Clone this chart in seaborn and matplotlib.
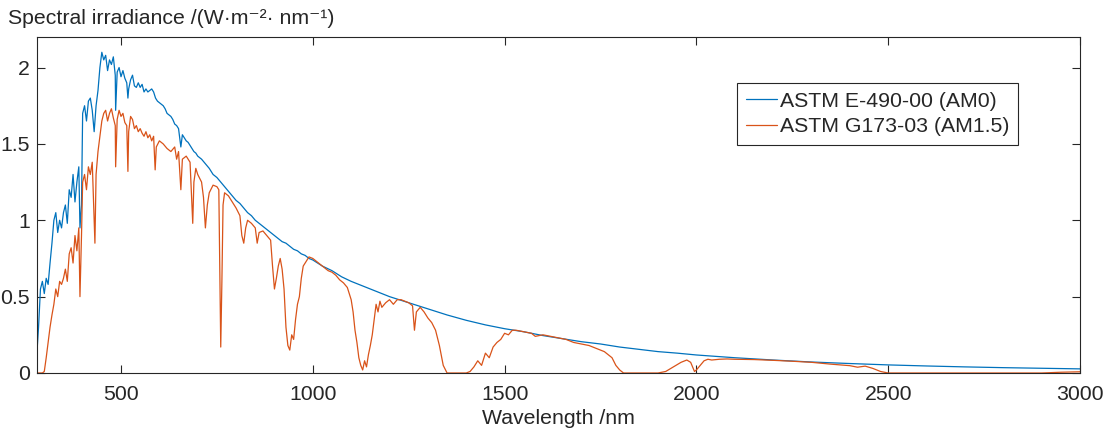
import matplotlib
matplotlib.use("Agg")
import matplotlib.pyplot as plt
import seaborn as sns
import numpy as np

# ---- AM0 (ASTM E-490-00) ----
am0_wl = [280, 285, 290, 295, 300, 305, 310, 315, 320, 325, 330, 335, 340, 345, 350,
          355, 360, 365, 370, 375, 380, 385, 390, 393, 397, 400, 405, 410, 415, 420,
          425, 430, 435, 440, 445, 450, 455, 460, 465, 470, 475, 480, 485, 486, 490,
          495, 500, 505, 510, 515, 518, 520, 525, 530, 535, 540, 545, 550, 555, 560,
          565, 570, 575, 580, 585, 590, 595, 600, 605, 610, 615, 620, 625, 630, 635,
          640, 645, 650, 656, 660, 665, 670, 675, 680, 685, 690, 695, 700, 710, 720,
          730, 740, 750, 760, 770, 780, 790, 800, 810, 820, 830, 840, 850, 860, 870,
          880, 890, 900, 910, 920, 930, 940, 950, 960, 970, 980, 990, 1000, 1025, 1050,
          1075, 1100, 1125, 1150, 1175, 1200, 1250, 1300, 1350, 1400, 1450, 1500, 1550,
          1600, 1650, 1700, 1750, 1800, 1850, 1900, 1950, 2000, 2100, 2200, 2300, 2400,
          2500, 2600, 2700, 2800, 2900, 3000]
am0_val = [0.10, 0.30, 0.55, 0.60, 0.52, 0.62, 0.58, 0.72, 0.85, 1.00, 1.05, 0.92, 1.00, 0.95, 1.05,
           1.10, 0.98, 1.20, 1.15, 1.30, 1.12, 1.25, 1.35, 0.95, 1.10, 1.70, 1.75, 1.65, 1.78, 1.80,
           1.72, 1.58, 1.75, 1.85, 2.00, 2.10, 2.05, 2.08, 1.98, 2.05, 2.02, 2.07, 1.95, 1.72, 1.97,
           2.00, 1.94, 1.98, 1.93, 1.90, 1.80, 1.86, 1.92, 1.95, 1.88, 1.87, 1.90, 1.87, 1.89, 1.84,
           1.86, 1.84, 1.85, 1.86, 1.84, 1.80, 1.78, 1.77, 1.76, 1.75, 1.73, 1.70, 1.69, 1.68, 1.66,
           1.63, 1.62, 1.60, 1.48, 1.56, 1.54, 1.52, 1.51, 1.49, 1.47, 1.45, 1.44, 1.42, 1.40, 1.37,
           1.34, 1.30, 1.28, 1.25, 1.22, 1.19, 1.16, 1.13, 1.11, 1.08, 1.05, 1.03, 1.00, 0.98, 0.96,
           0.94, 0.92, 0.90, 0.88, 0.86, 0.85, 0.83, 0.81, 0.80, 0.78, 0.77, 0.75, 0.74, 0.70, 0.67,
           0.63, 0.60, 0.575, 0.55, 0.525, 0.50, 0.46, 0.42, 0.38, 0.345, 0.315, 0.29, 0.27,
           0.245, 0.225, 0.205, 0.19, 0.17, 0.155, 0.14, 0.13, 0.118, 0.10, 0.085, 0.072, 0.062,
           0.053, 0.046, 0.040, 0.035, 0.031, 0.027]

# ---- AM1.5 (ASTM G173-03) ----
am15_wl = [280, 290, 295, 300, 305, 310, 315, 320, 325, 330, 335, 340, 345, 350, 355,
           360, 365, 370, 375, 380, 385, 390, 393, 397, 400, 405, 410, 415, 420, 425,
           430, 432, 435, 440, 445, 450, 455, 460, 465, 470, 475, 480, 485, 486, 490,
           495, 500, 505, 510, 515, 518, 520, 525, 530, 535, 540, 545, 550, 555, 560,
           565, 570, 575, 580, 585, 589, 592, 600, 610, 620, 630, 640, 645, 650, 656,
           660, 670, 680, 687, 690, 695, 700, 710, 715, 720, 725, 730, 740, 750, 755,
           760, 763, 766, 770, 780, 790, 800, 810, 815, 820, 825, 830, 840, 850, 855,
           860, 870, 880, 890, 895, 900, 905, 910, 915, 920, 925, 930, 935, 940, 945,
           950, 955, 960, 965, 970, 975, 980, 990, 1000, 1010, 1020, 1030, 1040, 1050, 1060,
           1070, 1080, 1090, 1100, 1105, 1110, 1115, 1120, 1125, 1130, 1135, 1140, 1145, 1150, 1155,
           1160, 1165, 1170, 1175, 1180, 1190, 1200, 1210, 1220, 1230, 1240, 1250, 1260, 1265, 1270,
           1280, 1290, 1300, 1310, 1320, 1330, 1340, 1350, 1400, 1410, 1420, 1430, 1440, 1450, 1460,
           1470, 1480, 1490, 1500, 1510, 1520, 1530, 1550, 1570, 1580, 1600, 1620, 1640, 1660, 1680,
           1700, 1720, 1740, 1760, 1780, 1790, 1800, 1810, 1900, 1920, 1940, 1960, 1975, 1985, 1995,
           2000, 2010, 2020, 2030, 2040, 2060, 2080, 2100, 2150, 2200, 2250, 2300, 2350, 2400, 2420,
           2440, 2460, 2480, 2500, 2900, 2950, 3000]
am15_val = [0.0, 0.0, 0.0, 0.01, 0.10, 0.20, 0.30, 0.38, 0.45, 0.55, 0.50, 0.60, 0.58, 0.62, 0.68,
            0.60, 0.78, 0.82, 0.72, 0.90, 0.80, 0.95, 0.50, 0.90, 1.25, 1.30, 1.20, 1.35, 1.30, 1.38,
            1.00, 0.85, 1.30, 1.45, 1.55, 1.65, 1.70, 1.72, 1.65, 1.70, 1.73, 1.67, 1.62, 1.35, 1.66,
            1.72, 1.68, 1.70, 1.64, 1.62, 1.32, 1.58, 1.68, 1.66, 1.60, 1.62, 1.58, 1.60, 1.57, 1.55,
            1.58, 1.54, 1.56, 1.52, 1.55, 1.33, 1.48, 1.52, 1.50, 1.47, 1.45, 1.48, 1.40, 1.45, 1.20,
            1.40, 1.42, 1.38, 0.98, 1.25, 1.34, 1.30, 1.25, 1.15, 0.95, 1.10, 1.18, 1.23, 1.22, 1.20,
            0.17, 0.60, 1.10, 1.18, 1.16, 1.12, 1.08, 1.03, 0.90, 0.85, 0.95, 1.00, 0.98, 0.95, 0.85,
            0.92, 0.93, 0.90, 0.87, 0.70, 0.55, 0.62, 0.70, 0.75, 0.68, 0.55, 0.30, 0.18, 0.15, 0.25,
            0.22, 0.35, 0.45, 0.50, 0.62, 0.70, 0.72, 0.76, 0.75, 0.73, 0.71, 0.69, 0.67, 0.66, 0.64,
            0.61, 0.59, 0.56, 0.48, 0.40, 0.28, 0.20, 0.10, 0.05, 0.02, 0.08, 0.04, 0.12, 0.18, 0.25,
            0.35, 0.45, 0.40, 0.47, 0.43, 0.46, 0.48, 0.45, 0.48, 0.48, 0.47, 0.46, 0.44, 0.28, 0.40,
            0.43, 0.40, 0.36, 0.33, 0.28, 0.18, 0.05, 0.0, 0.0, 0.01, 0.04, 0.08, 0.05, 0.13, 0.10,
            0.17, 0.20, 0.22, 0.26, 0.25, 0.28, 0.28, 0.27, 0.26, 0.24, 0.25, 0.24, 0.23, 0.22, 0.20,
            0.19, 0.18, 0.16, 0.14, 0.10, 0.05, 0.02, 0.0, 0.0, 0.01, 0.04, 0.07, 0.085, 0.07, 0.01,
            0.02, 0.05, 0.08, 0.09, 0.085, 0.09, 0.092, 0.09, 0.088, 0.083, 0.077, 0.07, 0.058, 0.048, 0.038,
            0.045, 0.03, 0.01, 0.0, 0.0, 0.005, 0.008]

series_labels = ["ASTM E-490-00 (AM0)", "ASTM G173-03 (AM1.5)"]
x_ticks = [500, 1000, 1500, 2000, 2500, 3000]
y_ticks = [0, 0.5, 1, 1.5, 2]
y_tick_labels = ["0", "0.5", "1", "1.5", "2"]

sns.set_theme(style="white")
fam = ["Liberation Sans", "DejaVu Sans"]
plt.rcParams["font.family"] = fam
FS = 15.3

fig = plt.figure(figsize=(11.17, 4.33), dpi=100)
ax = fig.add_axes([37 / 1117, 60 / 433, 1043 / 1117, 336 / 433])

blue = "#0072BD"
orange = "#D95319"
sns.lineplot(x=am0_wl, y=am0_val, ax=ax, color=blue, linewidth=0.9,
             label=series_labels[0], estimator=None, sort=False)
sns.lineplot(x=am15_wl, y=am15_val, ax=ax, color=orange, linewidth=0.9,
             label=series_labels[1], estimator=None, sort=False)

ax.set_xlim(281, 3000)
ax.set_ylim(0, 2.2)
ax.set_xticks(x_ticks)
ax.set_yticks(y_ticks)
ax.set_yticklabels(y_tick_labels)
ax.tick_params(direction="in", length=6, width=0.8, colors="#262626",
               labelsize=FS, top=True, right=True, left=True, bottom=True)
ax.tick_params(axis="x", pad=9)
ax.tick_params(axis="y", pad=5)
for s in ax.spines.values():
    s.set_color("#262626")
    s.set_linewidth(0.8)
ax.grid(False)
ax.set_xlabel("Wavelength /nm", fontsize=FS, color="#262626", labelpad=3)
ax.set_ylabel("")
fig.text(8 / 1117, 1 - 19 / 433, "Spectral irradiance /(W·m⁻²· nm⁻¹)",
         fontsize=FS, color="#262626", va="center", ha="left", family=fam)

leg = ax.legend(loc="upper right", bbox_to_anchor=(0.9405, 0.863), fontsize=FS,
                frameon=True, fancybox=False, framealpha=1, edgecolor="#262626",
                borderpad=0.4, handlelength=1.45, handletextpad=0.15, labelspacing=0.32,
                borderaxespad=0)
leg.get_frame().set_linewidth(0.8)

fig.savefig("out.png", dpi=100, facecolor="white")
